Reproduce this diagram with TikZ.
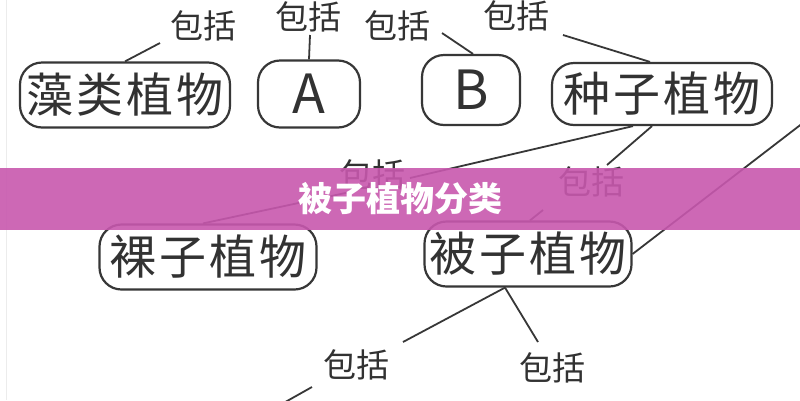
\documentclass[tikz,border=0pt]{standalone}
\usepackage{fontspec}
\newfontfamily\cjk{Noto Sans CJK SC}
\newfontfamily\cjksp{Noto Sans CJK SC}[LetterSpace=6]
\definecolor{linec}{RGB}{55,55,55}
\definecolor{txt}{RGB}{50,50,50}
\definecolor{bandc}{RGB}{200,88,174}
\begin{document}
\begin{tikzpicture}[x=1pt,y=-1pt,
  box/.style={draw=linec, line width=2.2pt, rounded corners=22pt, inner sep=0pt,
    font=\cjksp\fontsize{47}{47}\selectfont, text=txt},
  letterbox/.style={box, font=\cjk\fontsize{54}{54}\selectfont},
  lab/.style={inner sep=0pt, font=\cjk\fontsize{33}{33}\selectfont, text=txt},
  conn/.style={draw=linec, line width=1.8pt},
  band/.style={fill=bandc, opacity=0.9},
  title/.style={inner sep=0pt, text=white, font=\cjk\bfseries\fontsize{34}{34}\selectfont}]
\useasboundingbox (0,0) rectangle (800,400);
\fill[white] (0,0) rectangle (800,400);
\draw[gray!15, line width=1pt] (6,0) -- (6,400);
% boxes
\node[box, minimum width=210pt, minimum height=65pt] (zao) at (125,95) {藻类植物};
\node[letterbox, minimum width=102pt, minimum height=67pt] (A) at (309,94) {A};
\node[letterbox, minimum width=98pt, minimum height=70pt] (B) at (471,90) {B};
\node[box, minimum width=220pt, minimum height=62pt] (zhong) at (662,94) {种子植物};
\node[box, minimum width=217pt, minimum height=65pt] (luo) at (208,257) {裸子植物};
\node[box, minimum width=207pt, minimum height=65pt] (bei) at (528,254) {被子植物};
% labels
\node[lab] (l1) at (203,26) {包括};
\node[lab] (l2) at (308,17) {包括};
\node[lab] (l3) at (397,26) {包括};
\node[lab] (l4) at (516,16) {包括};
\node[lab] (l5) at (372,175) {包括};
\node[lab] (l6) at (591,182) {包括};
\node[lab] (l7) at (356,365) {包括};
\node[lab] (l8) at (552,368) {包括};
% connector end points
\coordinate (e1) at (160,43);
\coordinate (e2) at (310,35);
\coordinate (e3) at (442,33);
\coordinate (e4) at (563,35);
\coordinate (e5a) at (410,178);
\coordinate (e5b) at (350,192);
\coordinate (e6a) at (607,165);
\coordinate (e6b) at (543,210);
\coordinate (e7) at (812,116);
\coordinate (e8) at (403,342);
\coordinate (e9) at (538,342);
\coordinate (e10a) at (312,387);
\coordinate (e10b) at (280,405);
% connectors
\draw[conn] (zao.north) -- (e1);
\draw[conn] (A.north) -- (e2);
\draw[conn] ([xshift=2pt]B.north) -- (e3);
\draw[conn] ([xshift=-12pt]zhong.north) -- (e4);
\draw[conn] ([xshift=-29pt]zhong.south) -- (e5a);
\draw[conn] (e5b) -- ([xshift=-5pt]luo.north);
\draw[conn] ([xshift=-10pt]zhong.south) -- (e6a);
\draw[conn] (e6b) -- ([xshift=2pt]bei.north);
\draw[conn] (bei.east) -- (e7);
\draw[conn] ([xshift=-23pt]bei.south) -- (e8);
\draw[conn] ([xshift=-23pt]bei.south) -- (e9);
\draw[conn] (e10a) -- (e10b);
% band and title
\fill[band] (0,168) rectangle (800,230);
\node[title] (t) at (400,199) {被子植物分类};
\end{tikzpicture}
\end{document}
